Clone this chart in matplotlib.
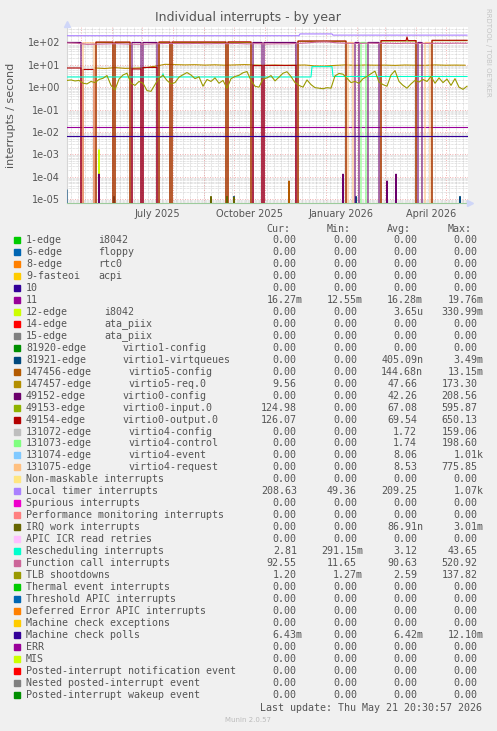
import numpy as np
import matplotlib
matplotlib.use("Agg")
import matplotlib.pyplot as plt
import matplotlib.dates as mdates
from matplotlib.patches import Rectangle
from matplotlib.ticker import FuncFormatter, LogLocator, NullFormatter
from datetime import datetime

W, H = 497, 731

# time axis: one value per day, 401 days ending at the last update
START = np.datetime64("2025-04-17")
NDAYS = 401
DAYS = np.arange(NDAYS)

TICK_DATES = ["2025-07-16", "2025-10-16", "2026-01-16", "2026-04-16"]
TICK_LABELS = ["July 2025", "October 2025", "January 2026", "April 2026"]

# level segments (start day, end day, value); the missing day between two
# segments is a reboot where the counter falls to 0
SEG_11 = [(0, 401, 0.0165)]
SEG_MCP = [(0, 401, 0.0064)]
SEG_LOCAL = [(0, 233, 200), (233, 266, 240), (266, 401, 212)]
SEG_RESCHED = [(0, 245, 2.85), (245, 266, 8.3), (266, 401, 3.0)]
SPIKE_RESCHED = [(96, 4.0)]

SEG_49152 = [(0, 15, 100), (65, 75, 100), (76, 91, 100), (186, 196, 100),
             (197, 230, 100), (288, 293, 100), (301, 313, 100), (351, 356, 100)]
SPIKE_49152 = [(32, 1.3e-4), (276, 1.3e-4), (320, 6.4e-5), (329, 1.3e-4)]
SEG_49153 = [(29, 47, 100), (48, 64, 100), (92, 104, 100), (105, 160, 100),
             (161, 185, 100), (231, 280, 112), (314, 350, 116), (365, 401, 120)]
SEG_49154 = [(0, 15, 7.2), (16, 28, 6.2), (29, 47, 104), (48, 64, 104),
             (65, 75, 6.5), (76, 91, 7.6), (92, 104, 105), (105, 160, 105),
             (161, 185, 106), (186, 196, 9.2), (197, 230, 9.4), (231, 280, 116),
             (314, 350, 121), (365, 401, 125)]
SPIKE_49154 = [(340, 175)]
SEG_131073 = [(294, 300, 100)]
SEG_131075 = [(16, 28, 96), (281, 287, 100), (358, 364, 100)]

SPIKE_12 = [(32, 1.6e-3)]
SPIKE_81921 = [(0, 2.5e-5), (47, 1.3e-5), (167, 1.3e-5), (289, 1.3e-5),
               (320, 1.3e-5), (393, 1.3e-5)]
SPIKE_147456 = [(160, 1.3e-5), (222, 6.4e-5)]
SPIKE_IRQWORK = [(144, 1.3e-5), (160, 1.3e-5), (167, 1.2e-5)]

# sampled noisy series
GOLD_DAY0, GOLD_STEP = 28, 10
GOLD = [7.2, 6.8, 7.5, 6.9, 7.1, 7.4, 8.6, 10.5, 10.2, 9.9,
        10.1, 9.7, 10.0, 9.6, 9.9, 10.2, 9.8, 9.5, 9.7, 9.4,
        9.6, 9.8, 8.9, 8.8, 9.4, 9.9, 9.5, 9.8, 9.6, 9.7,
        9.4, 9.8, 9.6, 9.5, 9.9, 9.6, 9.7, 9.6]

FC_STEP = 10
FUNC_CALL = [95, 92, 82, 84, 86, 88, 85, 83, 84, 88,
             90, 89, 88, 90, 87, 89, 88, 90, 86, 88,
             85, 87, 86, 90, 95, 104, 106, 96, 92, 90,
             93, 91, 92, 90, 93, 91, 90, 92, 91, 93, 92]

TLB_STEP = 4
TLB = [2.0, 2.1, 1.9, 2.0, 1.5, 1.4, 1.8, 1.6, 2.2, 2.5,
       3.3, 1.2, 0.75, 2.3, 3.5, 4.2, 1.5, 1.2, 1.8, 1.5,
       0.7, 0.65, 1.3, 2.5, 3.4, 2.0, 1.4, 1.6, 2.8, 3.6,
       4.5, 3.5, 2.4, 2.9, 1.1, 2.2, 1.8, 2.6, 1.5, 2.0,
       0.9, 2.4, 3.0, 3.4, 4.4, 5.0, 2.0, 1.1, 1.0, 2.3,
       2.6, 3.3, 1.9, 2.8, 4.2, 4.9, 3.0, 1.6, 1.2, 1.0,
       2.1, 1.3, 0.95, 0.9, 0.85, 0.95, 0.9, 3.2, 4.1, 3.8,
       2.5, 1.6, 1.8, 1.5, 2.4, 3.0, 4.0, 5.2, 1.7, 1.3,
       1.1, 3.5, 5.5, 1.8, 1.2, 0.9, 1.4, 2.0, 1.7, 2.2,
       1.8, 3.0, 1.5, 2.6, 1.6, 2.3, 1.2, 2.4, 1.0, 0.8,
       1.1]

# legend table
LABELS = ["1-edge      i8042", "6-edge      floppy", "8-edge      rtc0",
          "9-fasteoi   acpi", "10", "11", "12-edge      i8042",
          "14-edge      ata_piix", "15-edge      ata_piix",
          "81920-edge      virtio1-config", "81921-edge      virtio1-virtqueues",
          "147456-edge      virtio5-config", "147457-edge      virtio5-req.0",
          "49152-edge      virtio0-config", "49153-edge      virtio0-input.0",
          "49154-edge      virtio0-output.0", "131072-edge      virtio4-config",
          "131073-edge      virtio4-control", "131074-edge      virtio4-event",
          "131075-edge      virtio4-request", "Non-maskable interrupts",
          "Local timer interrupts", "Spurious interrupts",
          "Performance monitoring interrupts", "IRQ work interrupts",
          "APIC ICR read retries", "Rescheduling interrupts",
          "Function call interrupts", "TLB shootdowns",
          "Thermal event interrupts", "Threshold APIC interrupts",
          "Deferred Error APIC interrupts", "Machine check exceptions",
          "Machine check polls", "ERR", "MIS",
          "Posted-interrupt notification event",
          "Nested posted-interrupt event", "Posted-interrupt wakeup event"]
COLORS = ["#00CC00", "#0066B3", "#FF8000", "#FFCC00", "#330099", "#990099",
          "#CCFF00", "#FF0000", "#808080", "#008F00", "#00487D", "#B35A00",
          "#B38F00", "#6B006B", "#8FB300", "#B30000", "#BEBEBE", "#80FF80",
          "#80C9FF", "#FFC080", "#FFE680", "#AA80FF", "#EE00CC", "#FF8080",
          "#666600", "#FFBFFF", "#00FFCC", "#CC6699", "#999900", "#00CC00",
          "#0066B3", "#FF8000", "#FFCC00", "#330099", "#990099", "#CCFF00",
          "#FF0000", "#808080", "#008F00"]
HEADERS = ["Cur:", "Min:", "Avg:", "Max:"]
Z = "0.00"
CUR = [Z, Z, Z, Z, Z, "16.27m", Z, Z, Z, Z, Z, Z, "9.56", Z, "124.98", "126.07",
       Z, Z, Z, Z, Z, "208.63", Z, Z, Z, Z, "2.81", "92.55", "1.20", Z, Z, Z, Z,
       "6.43m", Z, Z, Z, Z, Z]
MIN = [Z, Z, Z, Z, Z, "12.55m", Z, Z, Z, Z, Z, Z, Z, Z, Z, Z,
       Z, Z, Z, Z, Z, "49.36", Z, Z, Z, Z, "291.15m", "11.65", "1.27m", Z, Z, Z, Z,
       Z, Z, Z, Z, Z, Z]
AVG = [Z, Z, Z, Z, Z, "16.28m", "3.65u", Z, Z, Z, "405.09n", "144.68n", "47.66",
       "42.26", "67.08", "69.54", "1.72", "1.74", "8.06", "8.53", Z, "209.25", Z, Z,
       "86.91n", Z, "3.12", "90.63", "2.59", Z, Z, Z, Z, "6.42m", Z, Z, Z, Z, Z]
MAX = [Z, Z, Z, Z, Z, "19.76m", "330.99m", Z, Z, Z, "3.49m", "13.15m", "173.30",
       "208.56", "595.87", "650.13", "159.06", "198.60", "1.01k", "775.85", Z,
       "1.07k", Z, Z, "3.01m", Z, "43.65", "520.92", "137.82", Z, Z, Z, Z,
       "12.10m", Z, Z, Z, Z, Z]


def from_segments(segs, spikes=()):
    v = np.zeros(NDAYS)
    for s, e, lvl in segs:
        v[s:e] = lvl
    for d, lvl in spikes:
        v[d] = lvl
    return v


TEXT = "#555555"
fig = plt.figure(figsize=(W / 100, H / 100), dpi=100, facecolor="#F0F0F0")
ax = fig.add_axes([67 / W, 1 - 203 / H, 401 / W, 176 / H], facecolor="white")

dates = START + DAYS
END = START + np.timedelta64(NDAYS, "D")
lw = 0.8


def draw(idx, x, y):
    ax.plot(x, y, color=COLORS[idx], lw=lw, zorder=3)


draw(5, dates, from_segments(SEG_11))
draw(6, dates, from_segments([], SPIKE_12))
draw(10, dates, from_segments([], SPIKE_81921))
draw(11, dates, from_segments([], SPIKE_147456))
draw(12, START + GOLD_DAY0 + GOLD_STEP * np.arange(len(GOLD)), GOLD)
draw(13, dates, from_segments(SEG_49152, SPIKE_49152))
draw(14, dates, from_segments(SEG_49153))
draw(15, dates, from_segments(SEG_49154, SPIKE_49154))
draw(17, dates, from_segments(SEG_131073))
draw(19, dates, from_segments(SEG_131075))
draw(21, dates, from_segments(SEG_LOCAL))
draw(24, dates, from_segments([], SPIKE_IRQWORK))
draw(26, dates, from_segments(SEG_RESCHED, SPIKE_RESCHED))
draw(27, START + FC_STEP * np.arange(len(FUNC_CALL)), FUNC_CALL)
draw(28, START + TLB_STEP * np.arange(len(TLB)), TLB)
draw(33, dates, from_segments(SEG_MCP))

ax.set_yscale("log")
ax.set_ylim(6.6e-6, 490)
ax.set_xlim(START, END)

ax.yaxis.set_major_locator(LogLocator(base=10, numticks=20))
ax.yaxis.set_minor_locator(LogLocator(base=10, subs=np.arange(2, 10), numticks=20))
ax.yaxis.set_major_formatter(FuncFormatter(lambda v, p: f"{v:.0e}"))
ax.yaxis.set_minor_formatter(NullFormatter())

ax.set_xticks([np.datetime64(d) for d in TICK_DATES])
ax.set_xticklabels(TICK_LABELS)
ax.xaxis.set_minor_locator(mdates.MonthLocator())

ax.set_axisbelow(True)
ax.yaxis.grid(True, which="minor", color="#C8C8C8", lw=0.5, ls=(0, (1, 1)))
ax.yaxis.grid(True, which="major", color="#EE9A9A", lw=0.6, ls=(0, (1, 2)))
d0 = datetime.fromisoformat(str(START))
d1 = datetime.fromisoformat(str(END))
for wk in mdates.WeekdayLocator(byweekday=mdates.MO).tick_values(d0, d1):
    ax.axvline(wk, color="#C8C8C8", lw=0.5, ls=(0, (1, 1)), zorder=0.5)
ax.xaxis.grid(True, which="minor", color="#EE9A9A", lw=0.6, ls=(0, (1, 2)))
ax.xaxis.grid(False, which="major")

ax.tick_params(axis="both", which="both", length=0)
ax.tick_params(axis="y", labelsize=7, colors=TEXT, pad=5)
ax.tick_params(axis="x", labelsize=7, colors=TEXT, pad=4)
for s in ("top", "right"):
    ax.spines[s].set_visible(False)
ax.spines["left"].set_color("#D6D6D6")
ax.spines["bottom"].set_color("#9CCB9C")
ax.plot([0], [1.015], marker="^", ms=4, color="#CFD6F8", transform=ax.transAxes,
        clip_on=False, zorder=5)
ax.plot([1.005], [0], marker=">", ms=4, color="#CFD6F8", transform=ax.transAxes,
        clip_on=False, zorder=5)

fig.text(248 / W, 1 - 18 / H, "Individual interrupts - by year", ha="center",
         va="center", fontsize=9, color=TEXT)
fig.text(11 / W, 1 - 115 / H, "interrupts / second", rotation=90, ha="center",
         va="center", fontsize=8, color=TEXT)
fig.text(488 / W, 1 - 52 / H, "RRDTOOL / TOBI OETIKER", rotation=270, ha="center",
         va="center", fontsize=5, color="#C4C4C4")

# legend: monospaced columns on a 6.02 px character grid
CW = 6.02
X0 = 26
mono = dict(family="DejaVu Sans Mono", fontsize=7.2, color=TEXT, va="center",
            ha="left")
for k, h in enumerate(HEADERS):
    fig.text((X0 + (40 + 10 * k) * CW) / W, 1 - 229 / H, h, **mono)

for i, lab in enumerate(LABELS):
    y = 240 + 11.97 * i
    fig.patches.append(Rectangle((14 / W, 1 - (y + 3) / H), 6 / W, 6 / H,
                                 transform=fig.transFigure, color=COLORS[i]))
    if "   " in lab:
        # irq name and device name sit in separate columns
        head = lab.split(" ")[0]
        tail = lab.split()[-1]
        fig.text(X0 / W, 1 - y / H, head, **mono)
        fig.text((X0 + lab.index(tail) * CW) / W, 1 - y / H, tail, **mono)
    else:
        fig.text(X0 / W, 1 - y / H, lab, **mono)
    for k, v in enumerate((CUR[i], MIN[i], AVG[i], MAX[i])):
        num = v[:-1] if v[-1].isalpha() else v
        x = X0 + (45 + 10 * k - len(num)) * CW
        fig.text(x / W, 1 - y / H, v, **mono)

fig.text(482 / W, 1 - 708 / H, "Last update: Thu May 21 20:30:57 2026",
         **{**mono, "ha": "right"})
fig.text(248 / W, 1 - 720 / H, "Munin 2.0.57", ha="center", va="center",
         fontsize=5, color="#BBBBBB")

fig.savefig("out.png", dpi=100, facecolor=fig.get_facecolor())
